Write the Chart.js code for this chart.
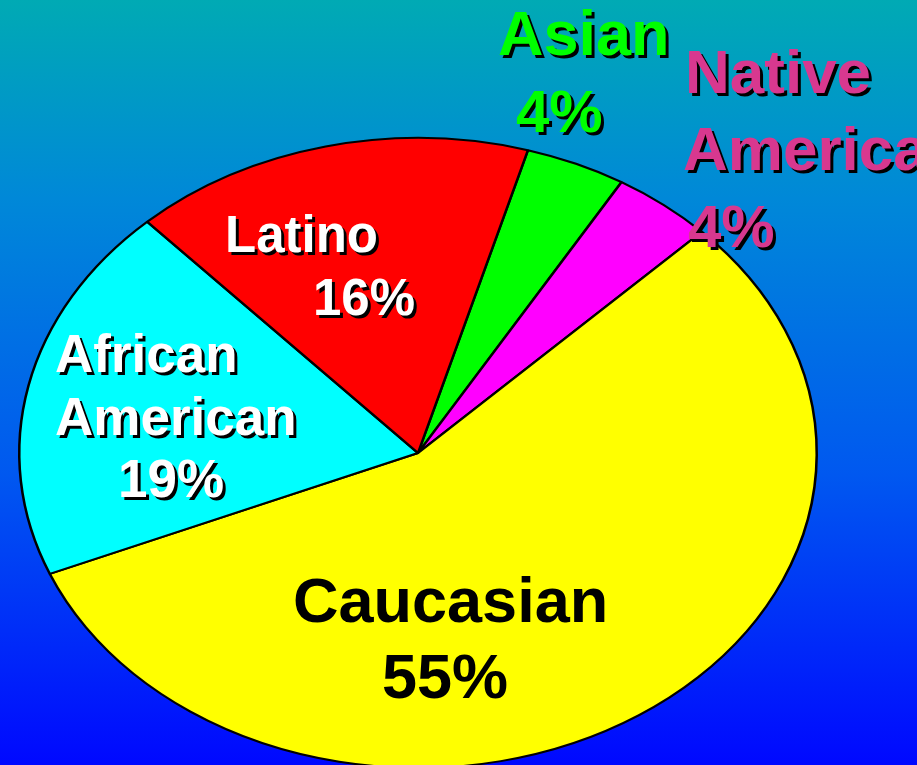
<!DOCTYPE html>
<html>
<head>
<meta charset="utf-8">
<script src="https://cdn.jsdelivr.net/npm/chart.js@4.4.1/dist/chart.umd.min.js"></script>
<style>
  html, body { margin: 0; padding: 0; }
  body {
    width: 917px; height: 765px; overflow: hidden;
    background: linear-gradient(to bottom, #00aab4 0%, #0088d8 26%, #0058f0 62%, #0008ff 100%);
  }
  #grafico { display: block; }
</style>
</head>
<body>
<canvas id="grafico" width="917" height="800"></canvas>
<script>
// Dados do gráfico (ordem a partir do topo, sentido horário)
const categorias = ['Asian', 'Native American', 'Caucasian', 'African American', 'Latino'];
const valores = [4, 4, 55, 19, 16];
const cores = ['#00ff00', '#ff00ff', '#ffff00', '#00ffff', '#ff0000'];

// Rótulos: linhas de texto de cada fatia
const linhasRotulos = [
  ['Asian', '4%'],
  ['Native', 'America', '4%'],
  ['Caucasian', '55%'],
  ['African', 'American', '19%'],
  ['Latino', '16%']
];
const corTexto = ['#00ff00', '#d8388f', '#000000', '#ffffff', '#ffffff'];

// Achatamento horizontal da pizza (elipse)
const escalaX = 400 / 316;

const pluginElipse = {
  id: 'elipse',
  beforeDatasetsDraw(chart) {
    const arc = chart.getDatasetMeta(0).data[0];
    const ctx = chart.ctx;
    ctx.save();
    ctx.translate(arc.x, arc.y);
    ctx.scale(escalaX, 1);
    ctx.translate(-arc.x, -arc.y);
  },
  afterDatasetsDraw(chart) {
    chart.ctx.restore();
  }
};

// posições das linhas de texto (x esquerda, linha de base, tamanho)
const posicoes = [
  [[498, 55, 63], [516, 132, 60]],
  [[685, 93, 62], [683, 170, 62], [688, 247, 60]],
  [[293, 622, 63], [382, 698, 63]],
  [[55, 372, 53], [55, 435, 53], [118, 497, 53]],
  [[225, 252, 51], [313, 315, 51]]
];

const pluginRotulos = {
  id: 'rotulos',
  afterDraw(chart) {
    const ctx = chart.ctx;
    ctx.save();
    ctx.textAlign = 'left';
    ctx.textBaseline = 'alphabetic';
    linhasRotulos.forEach((linhas, i) => {
      linhas.forEach((texto, j) => {
        const [x, y, tam] = posicoes[i][j];
        ctx.font = 'bold ' + tam + 'px "Liberation Sans", Arial, sans-serif';
        if (i !== 2) {
          ctx.fillStyle = '#000000';
          ctx.fillText(texto, x + 3, y + 3);
        }
        ctx.fillStyle = corTexto[i];
        ctx.fillText(texto, x, y);
      });
    });
    ctx.restore();
  }
};

const ctx = document.getElementById('grafico').getContext('2d');
new Chart(ctx, {
  type: 'pie',
  data: {
    labels: categorias,
    datasets: [{
      data: valores,
      backgroundColor: cores,
      borderColor: '#000000',
      borderWidth: 2
    }]
  },
  options: {
    responsive: false,
    animation: false,
    rotation: 16,
    layout: { padding: { top: 137, bottom: 31, left: 102, right: 183 } },
    plugins: {
      legend: { display: false },
      tooltip: { enabled: false }
    }
  },
  plugins: [pluginElipse, pluginRotulos]
});
</script>
</body>
</html>
